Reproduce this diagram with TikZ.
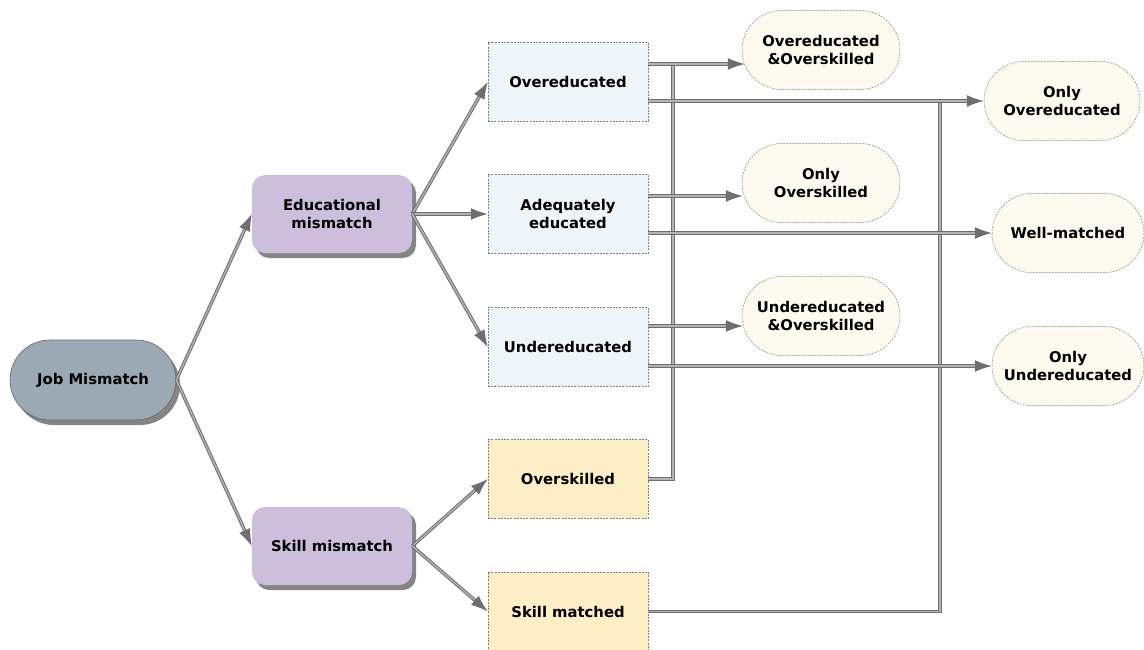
\documentclass[tikz,border=0pt]{standalone}
\usepackage{fontspec}
\setmainfont{DejaVu Sans}
\usetikzlibrary{arrows.meta,shapes.misc,shadows,calc}
\definecolor{jmfill}{HTML}{9AA9B3}
\definecolor{midfill}{HTML}{CDBFDB}
\definecolor{edfill}{HTML}{EEF5F8}
\definecolor{skfill}{HTML}{FDEEC8}
\definecolor{outfill}{HTML}{FDFAF0}
\definecolor{linegray}{HTML}{6E6E6E}
\definecolor{innergray}{HTML}{B4B4B4}
\tikzset{
  lbl/.style={font=\bfseries\fontsize{14.8}{18}\selectfont, align=center, text=black},
  rootbox/.style={lbl, rounded rectangle, fill=jmfill, draw=black!60, line width=0.6pt,
     minimum width=166pt, minimum height=80pt, inner sep=0pt,
     drop shadow={shadow xshift=4pt, shadow yshift=-5pt, opacity=0.6, fill=black!80}},
  midbox/.style={lbl, rectangle, rounded corners=13pt, fill=midfill, draw=none,
     minimum width=160pt, minimum height=78pt, inner sep=0pt,
     drop shadow={shadow xshift=4pt, shadow yshift=-5pt, opacity=0.6, fill=black!80}},
  edbox/.style={lbl, rectangle, fill=edfill, draw=black!50, dashed, dash pattern=on 2pt off 1.2pt,
     line width=0.5pt, minimum width=160pt, minimum height=79pt, inner sep=0pt},
  skbox/.style={edbox, fill=skfill},
  outbox/.style={lbl, rounded rectangle, fill=outfill, draw=black!50, dashed, dash pattern=on 2pt off 1.2pt,
     line width=0.5pt, minimum width=158pt, minimum height=79pt, inner sep=0pt},
  conn/.style={draw=linegray, line width=1pt, double=innergray, double distance=1.4pt},
  tipline/.style={draw=linegray, line width=1.2pt, -{Latex[length=17pt,width=12pt]}},
}
\newcommand\linkarrow[2]{%
  \draw[conn, shorten >=14pt] (#1) -- (#2);
  \draw[tipline] ($(#2)!17pt!(#1)$) -- (#2);
}
\begin{document}
\begin{tikzpicture}[x=1pt,y=-1pt]
\useasboundingbox (0,0) rectangle (1144,650);
% nodes
\node[rootbox] (jm) at (93,380) {Job Mismatch};
\node[midbox] (em) at (332,214) {Educational\\mismatch};
\node[midbox] (sm) at (332,546) {Skill mismatch};
\node[edbox] (ov) at (568,82) {Overeducated};
\node[edbox] (ad) at (568,214) {Adequately\\educated};
\node[edbox] (ud) at (568,347) {Undereducated};
\node[skbox] (os) at (568,479) {Overskilled};
\node[skbox] (sk) at (568,611.5) {Skill matched};
\node[outbox] (oo) at (821,50) {Overeducated\\\&Overskilled};
\node[outbox] (oskl) at (821,183) {Only\\Overskilled};
\node[outbox] (uo) at (821,316) {Undereducated\\\&Overskilled};
\node[outbox, minimum width=156pt] (oe) at (1062,101) {Only\\Overeducated};
\node[outbox, minimum width=152pt] (wm) at (1068,233) {Well-matched};
\node[outbox, minimum width=152pt] (ou) at (1068,366) {Only\\Undereducated};
% coordinates for connector ends
\coordinate (v1top) at (673,64);
\coordinate (v2top) at (940,101);
\coordinate (ovA) at ($(ov.east)+(0,-18)$);
\coordinate (ovB) at ($(ov.east)+(0,19)$);
\coordinate (adA) at ($(ad.east)+(0,-18)$);
\coordinate (adB) at ($(ad.east)+(0,19)$);
\coordinate (udA) at ($(ud.east)+(0,-21)$);
\coordinate (udB) at ($(ud.east)+(0,19)$);
\coordinate (ooIn) at ($(oo.west)+(3,14)$);
\coordinate (osklIn) at ($(oskl.west)+(1,13)$);
\coordinate (uoIn) at ($(uo.west)+(1,10)$);
% vertical connectors (behind)
\draw[conn] (os.east) -- (os.east -| v1top) -- (v1top);
\draw[conn] (sk.east) -- (sk.east -| v2top) -- (v2top);
% tree connectors
\linkarrow{jm.east}{em.west}
\linkarrow{jm.east}{sm.west}
\linkarrow{em.east}{ov.west}
\linkarrow{em.east}{ad.west}
\linkarrow{em.east}{ud.west}
\linkarrow{sm.east}{os.west}
\linkarrow{sm.east}{sk.west}
% outcome connectors
\linkarrow{ovA}{ooIn}
\linkarrow{ovB}{oe.west}
\linkarrow{adA}{osklIn}
\linkarrow{adB}{wm.west}
\linkarrow{udA}{uoIn}
\linkarrow{udB}{ou.west}
\end{tikzpicture}
\end{document}
